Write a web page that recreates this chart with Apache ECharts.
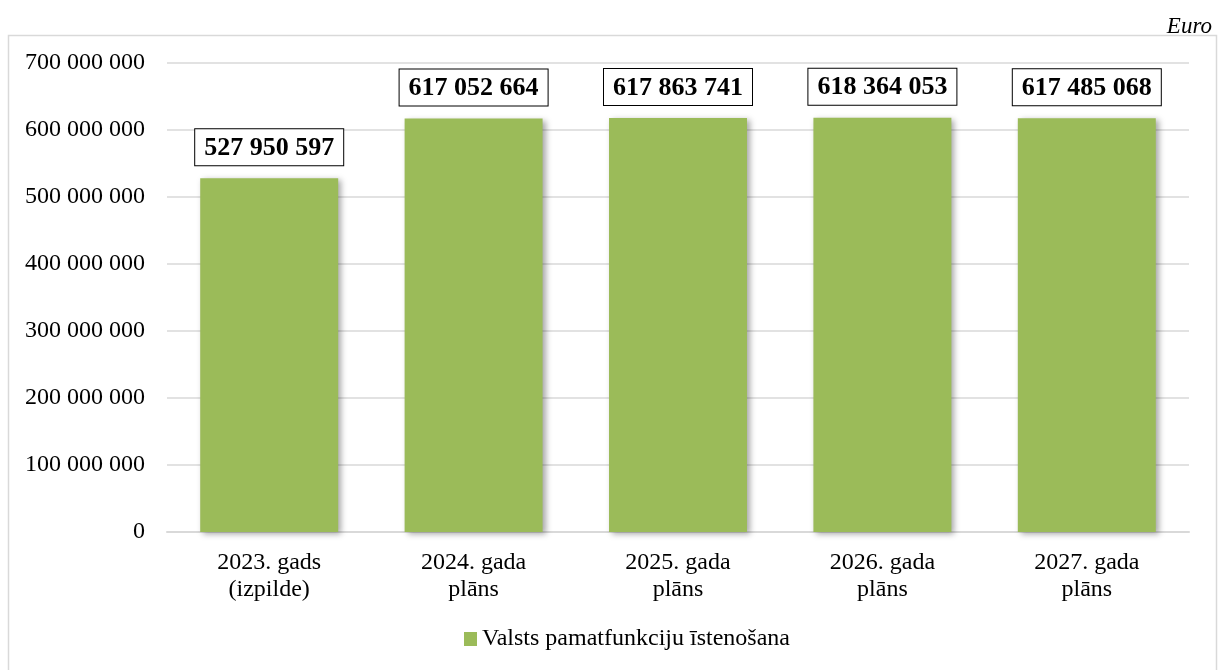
<!DOCTYPE html>
<html>
<head>
<meta charset="utf-8">
<script src="https://cdn.jsdelivr.net/npm/echarts@6/dist/echarts.min.js"></script>
<style>
html,body{margin:0;padding:0;background:#fff;}
#c{width:1220px;height:670px;}
</style>
</head>
<body>
<div id="c"></div>
<script>
const categories = ['2023. gads\n(izpilde)', '2024. gada\nplāns', '2025. gada\nplāns', '2026. gada\nplāns', '2027. gada\nplāns'];
const seriesName = 'Valsts pamatfunkciju īstenošana';
const values = [527950597, 617052664, 617863741, 618364053, 617485068];
const unitLabel = 'Euro';

function fmt(v){ return String(v).replace(/\B(?=(\d{3})+(?!\d))/g, ' '); }

const font = '"Liberation Serif", "Times New Roman", serif';
const chart = echarts.init(document.getElementById('c'));
chart.setOption({
  animation: false,
  backgroundColor: '#fff',
  textStyle: { fontFamily: font },
  graphic: [
    { type: 'rect', shape: { x: 8.5, y: 35.5, width: 1208, height: 660 }, style: { fill: 'none', stroke: '#d9d9d9', lineWidth: 1.5 }, z: -1 },
    { type: 'text', right: 8, top: 15, style: { text: unitLabel, font: 'italic 23px ' + font, fill: '#000' } }
  ],
  grid: { left: 167, right: 31, top: 63, bottom: 138, containLabel: false },
  legend: {
    bottom: 14, left: 459,
    itemWidth: 13, itemHeight: 14, itemGap: 6,
    icon: 'rect',
    textStyle: { fontFamily: font, fontSize: 24, color: '#000' },
    data: [seriesName]
  },
  xAxis: {
    type: 'category',
    data: categories,
    axisLine: { lineStyle: { color: '#d9d9d9', width: 2 } },
    axisTick: { show: false },
    axisLabel: { color: '#000', fontSize: 24, fontFamily: font, lineHeight: 27, margin: 17 }
  },
  yAxis: {
    type: 'value',
    min: 0, max: 700000000, interval: 100000000,
    axisLine: { show: false },
    axisTick: { show: false },
    splitLine: { lineStyle: { color: '#d9d9d9', width: 1.5 } },
    axisLabel: { color: '#000', fontSize: 24, fontFamily: font, margin: 22, formatter: v => fmt(v) }
  },
  series: [{
    name: seriesName,
    type: 'bar',
    data: values,
    barWidth: '67.5%',
    itemStyle: { color: '#9bbb59', shadowColor: 'rgba(0,0,0,0.35)', shadowBlur: 6, shadowOffsetX: 3, shadowOffsetY: 2 },
    label: {
      show: true, position: 'top', distance: 13,
      formatter: p => fmt(p.value),
      fontFamily: font, fontSize: 26, fontWeight: 'bold', color: '#000',
      backgroundColor: '#fff', borderColor: '#000', borderWidth: 1,
      padding: [4, 9, 2, 9], lineHeight: 30
    }
  }]
});
</script>
</body>
</html>
